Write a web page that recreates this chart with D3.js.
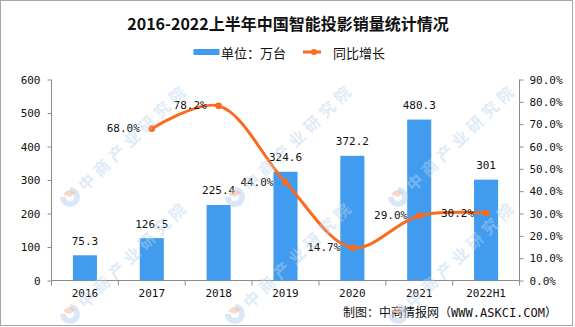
<!DOCTYPE html>
<html><head><meta charset="utf-8">
<script src="https://cdn.jsdelivr.net/npm/d3@7"></script>
<style>html,body{margin:0;padding:0;background:#fff;}svg{display:block;}</style>
</head><body>
<svg id="c" width="575" height="327"></svg>
<script>
const categories = ["2016","2017","2018","2019","2020","2021","2022H1"];
const sales = [75.3,126.5,225.4,324.6,372.2,480.3,301];
const salesLabels = ["75.3","126.5","225.4","324.6","372.2","480.3","301"];
const growth = [null,68.0,78.2,44.0,14.7,29.0,30.2];
const leftTicks = [0,100,200,300,400,500,600];
const rightTicks = [0,10,20,30,40,50,60,70,80,90];
const title = "2016-2022上半年中国智能投影销量统计情况";
const legendNames = ["单位：万台","同比增长"];
const source = "制图：中商情报网（WWW.ASKCI.COM）";
const watermarkText = "中商产业研究院";

const numFont = "'DejaVu Sans Mono', 'Noto Sans CJK SC', monospace";
const cjkFont = "'Noto Sans CJK SC', sans-serif";
const barColor = "#419CEF", lineColor = "#FA6A1F", axisColor = "#8c8c8c";

const svg = d3.select("#c");
svg.append("rect").attr("x",0.5).attr("y",0.5).attr("width",572).attr("height",325)
  .attr("fill","#fff").attr("stroke","#a6a6a6");

const L = 51.5, R = 519.5, T = 79.5, B = 280.5;
const x = d3.scaleBand().domain(categories).range([L,R]).padding(0);
const yL = d3.scaleLinear().domain([0,600]).range([B,T]);
const yR = d3.scaleLinear().domain([0,90]).range([B,T]);

// title
svg.append("text").attr("x",288).attr("y",23).attr("text-anchor","middle")
  .attr("dominant-baseline","central").attr("font-family",cjkFont)
  .attr("font-weight","bold").attr("font-size",16).attr("fill","#111").text(title);

// legend
const lg = svg.append("g");
lg.append("rect").attr("x",193.5).attr("y",49).attr("width",26).attr("height",6).attr("fill",barColor);
lg.append("text").attr("x",221).attr("y",52).attr("dominant-baseline","central")
  .attr("font-family",cjkFont).attr("font-size",13).attr("fill","#111").text(legendNames[0]);
lg.append("line").attr("x1",303).attr("x2",321).attr("y1",52).attr("y2",52)
  .attr("stroke",lineColor).attr("stroke-width",3);
lg.append("circle").attr("cx",314).attr("cy",52).attr("r",3).attr("fill",lineColor);
lg.append("text").attr("x",333).attr("y",52).attr("dominant-baseline","central")
  .attr("font-family",cjkFont).attr("font-size",13).attr("fill","#111").text(legendNames[1]);

// axes
const axL = d3.axisLeft(yL).tickValues(leftTicks).tickSize(4).tickPadding(7).tickFormat(d3.format("d"));
const gL = svg.append("g").attr("transform",`translate(${L},0)`).call(axL);
const axR = d3.axisRight(yR).tickValues(rightTicks).tickSize(4).tickPadding(6).tickFormat(d=>d.toFixed(1)+"%");
const gR = svg.append("g").attr("transform",`translate(${R},0)`).call(axR);
const axB = d3.axisBottom(x).tickSize(0).tickPadding(9);
const gB = svg.append("g").attr("transform",`translate(0,${B})`).call(axB);
const bounds = categories.map(c=>x(c)).concat([x(categories[categories.length-1])+x.bandwidth()]);
gB.selectAll("line.bt").data(bounds).enter().append("line").attr("class","bt")
  .attr("x1",d=>d).attr("x2",d=>d).attr("y1",0).attr("y2",5).attr("stroke",axisColor);
[gL,gR,gB].forEach(g=>{
  g.select(".domain").attr("stroke",axisColor);
  g.selectAll(".tick line").attr("stroke",axisColor);
  g.selectAll("text").attr("font-family",numFont).attr("font-size",11).attr("fill","#111");
});
gB.select(".domain").attr("d",`M${L},0H${R}`);
gL.select(".domain").attr("d",`M0,${T}V${B}`);
gR.select(".domain").attr("d",`M0,${T}V${B}`);

// bars
const bw = x.bandwidth()*0.36;
svg.append("g").selectAll("rect").data(sales).enter().append("rect")
  .attr("x",(d,i)=>x(categories[i])+x.bandwidth()/2-bw/2)
  .attr("y",d=>yL(d)).attr("width",bw).attr("height",d=>yL(0)-yL(d)).attr("fill",barColor);
svg.append("g").selectAll("text").data(sales).enter().append("text")
  .attr("x",(d,i)=>x(categories[i])+x.bandwidth()/2)
  .attr("y",d=>yL(d)-14).attr("text-anchor","middle").attr("dominant-baseline","central")
  .attr("font-family",numFont).attr("font-size",11).attr("fill","#111")
  .text((d,i)=>salesLabels[i]);

// line
const pts = growth.map((g,i)=>({g,c:categories[i]})).filter(d=>d.g!==null);
const cx = d=>x(d.c)+x.bandwidth()/2;
const line = d3.line().x(cx).y(d=>yR(d.g)).curve(d3.curveCatmullRom.alpha(0.5));
svg.append("path").datum(pts).attr("d",line).attr("fill","none")
  .attr("stroke",lineColor).attr("stroke-width",3);
svg.append("g").selectAll("circle").data(pts).enter().append("circle")
  .attr("cx",cx).attr("cy",d=>yR(d.g)).attr("r",3.3).attr("fill",lineColor);
svg.append("g").selectAll("text").data(pts).enter().append("text")
  .attr("x",d=>cx(d)-12).attr("y",d=>yR(d.g)).attr("text-anchor","end")
  .attr("dominant-baseline","central").attr("font-family",numFont).attr("font-size",11)
  .attr("fill","#111").text(d=>d.g.toFixed(1)+"%");

// source
svg.append("text").attr("x",557).attr("y",313).attr("text-anchor","end")
  .attr("dominant-baseline","central").attr("font-family",numFont).attr("font-size",12)
  .attr("fill","#111").text(source);

// watermark overlay (only the copies that sit fully inside the picture)
const wmX = [70,235,398], wmY = [197,314];
const wm = svg.append("g").attr("pointer-events","none");
wmX.forEach(px=>wmY.forEach(py=>{
  const g = wm.append("g").attr("transform",`translate(${px},${py}) rotate(-44)`);
  g.append("path").attr("d",d3.arc()({innerRadius:4,outerRadius:10,startAngle:Math.PI*0.25,endAngle:Math.PI*1.75}))
    .attr("fill","#b9d4ee").attr("opacity",0.55);
  g.append("path").attr("d",d3.arc()({innerRadius:0,outerRadius:7,startAngle:-Math.PI*0.15,endAngle:Math.PI*0.55}))
    .attr("fill","#f4c2ac").attr("opacity",0.6);
  g.append("text").attr("x",14).attr("y",0).attr("dominant-baseline","central")
    .attr("font-family",cjkFont).attr("font-weight","bold").attr("font-size",16)
    .attr("letter-spacing",5).attr("fill","#b9d4ee").attr("opacity",0.45).text(watermarkText);
}));
</script>
</body></html>
